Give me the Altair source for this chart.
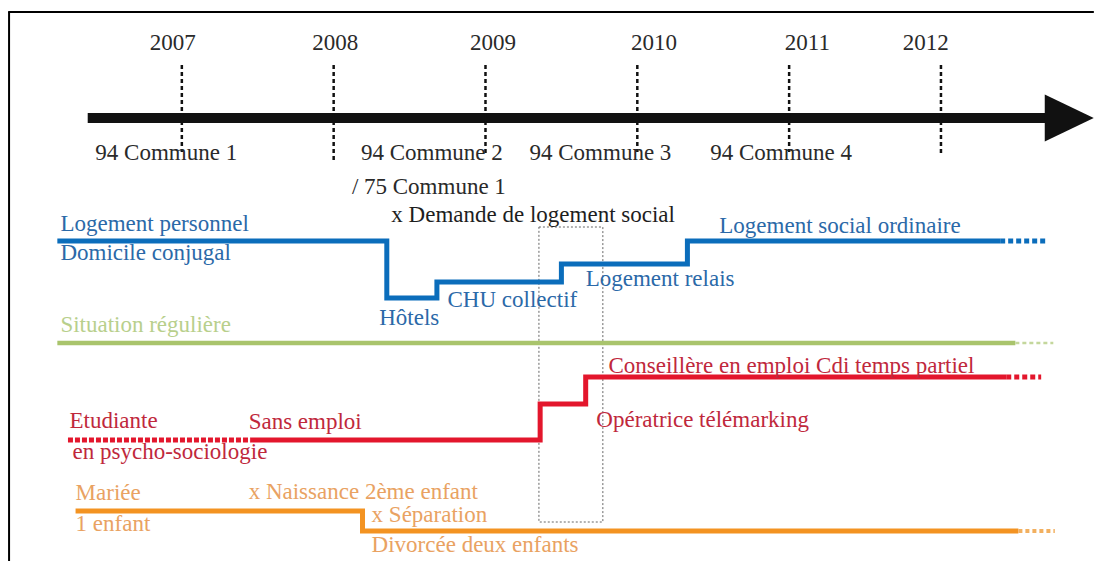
import altair as alt
import pandas as pd

# ---------------- data ----------------
# horizontal axis in years, vertical axis in "rows" of the diagram (top = small)
X_DOMAIN = [2005.855, 2013.008]
Y_DOMAIN = [8, 561]

years = [2007, 2008, 2009, 2010, 2011, 2012]
year_labels = ["2007", "2008", "2009", "2010", "2011", "2012"]
year_label_x = [2006.94, 2008.01, 2009.05, 2010.11, 2011.12, 2011.90]
year_line_top = [65, 65, 65, 65, 65, 65]
year_line_bottom = [152, 162, 154, 152, 152, 155]

arrow_start = 2006.38
arrow_end = 2012.70
arrow_tip = 2013.00
arrow_row = 118

communes = ["94 Commune 1", "94 Commune 2", "/ 75 Commune 1", "94 Commune 3", "94 Commune 4"]
commune_x = [2006.43, 2008.18, 2008.12, 2009.29, 2010.48]
commune_row = [153, 153, 187, 153, 153]

# step tracks: (year, row)
blue_x = [2006.18, 2008.35, 2008.35, 2008.68, 2008.68, 2009.50, 2009.50, 2010.33, 2010.33, 2012.39]
blue_y = [241, 241, 298, 298, 282, 282, 264, 264, 241, 241]
blue_tail = [2012.39, 2012.70]

green_x = [2006.18, 2012.49]
green_y = [343, 343]
green_tail = [2012.49, 2012.74]

red_x = [2007.45, 2009.36, 2009.36, 2009.66, 2009.66, 2012.43]
red_y = [440, 440, 404, 404, 377, 377]
red_head = [2006.25, 2007.45]
red_tail = [2012.43, 2012.66]

orange_x = [2006.30, 2008.19, 2008.19, 2012.51]
orange_y = [511, 511, 531, 531]
orange_tail = [2012.51, 2012.75]

box_x = [2009.352, 2009.773]
box_y = [227, 522]

label_text = [
    "x Demande de logement social",
    "Logement personnel", "Domicile conjugal", "Hôtels", "CHU collectif",
    "Logement relais", "Logement social ordinaire",
    "Situation régulière",
    "Etudiante", "en psycho-sociologie", "Sans emploi", "Opératrice télémarking",
    "Conseillère en emploi Cdi temps partiel",
    "Mariée", "1 enfant", "x Naissance 2ème enfant", "x Séparation", "Divorcée deux enfants",
]
label_x = [
    2008.38,
    2006.20, 2006.20, 2008.30, 2008.75,
    2009.66, 2010.54,
    2006.20,
    2006.26, 2006.28, 2007.44, 2009.73,
    2009.81,
    2006.30, 2006.30, 2007.44, 2008.25, 2008.25,
]
label_y = [
    215,
    224, 253, 318, 300,
    279, 226,
    325,
    421, 452, 422, 420,
    366,
    493, 524, 492, 515, 545,
]
label_group = [
    "black",
    "blue", "blue", "blue", "blue", "blue", "blue",
    "green",
    "red", "red", "red", "red", "red",
    "orange", "orange", "orange", "orange", "orange",
]

# ---------------- styles ----------------
C_BLUE = "#0b6dbb"
C_GREEN = "#a9c46c"
C_RED = "#e3162c"
C_ORANGE = "#f39322"
TEXT_COLORS = {"black": "#1e1e1e", "blue": "#2b69a8", "green": "#b8cf8c",
               "red": "#c0283c", "orange": "#e9a262"}
FONT = "Liberation Serif"
FS = 23

xs = alt.Scale(domain=X_DOMAIN, nice=False, zero=False)
ys = alt.Scale(domain=Y_DOMAIN, reverse=True, nice=False, zero=False)


def X(f="x"):
    return alt.X(f"{f}:Q", scale=xs, axis=None)


def Y(f="y"):
    return alt.Y(f"{f}:Q", scale=ys, axis=None)


layers = []

# frame (left and top borders)
left = pd.DataFrame({"x": [X_DOMAIN[0] + 0.007], "y": [12], "y2": [Y_DOMAIN[1]]})
layers.append(alt.Chart(left).mark_rule(color="#000", strokeWidth=2).encode(
    x=X(), y=Y(), y2="y2:Q"))
top = pd.DataFrame({"x": [X_DOMAIN[0] + 0.001], "x2": [X_DOMAIN[1] - 0.001],
                    "y": [11], "y2": [13]})
layers.append(alt.Chart(top).mark_rect(color="#000", strokeWidth=0).encode(
    x=X(), x2="x2:Q", y=Y(), y2="y2:Q"))

# main arrow
arrow = pd.DataFrame({"x": [arrow_start], "x2": [arrow_end], "y": [arrow_row]})
layers.append(alt.Chart(arrow).mark_rule(color="#111", strokeWidth=10).encode(
    x=X(), x2="x2:Q", y=Y()))
head = pd.DataFrame({"x": [(arrow_end + arrow_tip) / 2 - 0.005], "y": [arrow_row]})
layers.append(alt.Chart(head).mark_point(
    shape="M-1,-0.96L1,0L-1,0.96Z", size=2401, filled=True, opacity=1,
    color="#111", strokeWidth=0).encode(x=X(), y=Y()))

# year dashed lines
yl = pd.DataFrame({"x": years, "y": year_line_top, "y2": year_line_bottom})
layers.append(alt.Chart(yl).mark_rule(color="#111", strokeWidth=2.5, strokeDash=[4, 3]).encode(
    x=X(), y=Y(), y2="y2:Q"))

# year labels
ylab = pd.DataFrame({"x": year_label_x, "y": [43] * len(years), "t": year_labels})
layers.append(alt.Chart(ylab).mark_text(font=FONT, fontSize=FS, color="#2a2a2a",
                                        align="center", baseline="middle").encode(
    x=X(), y=Y(), text="t:N"))

# communes
cl = pd.DataFrame({"x": commune_x, "y": commune_row, "t": communes})
layers.append(alt.Chart(cl).mark_text(font=FONT, fontSize=FS, color="#2a2a2a",
                                      align="left", baseline="middle").encode(
    x=X(), y=Y(), text="t:N"))

# dotted box
box = pd.DataFrame({"x": [box_x[0]], "x2": [box_x[1]], "y": [box_y[0]], "y2": [box_y[1]]})
layers.append(alt.Chart(box).mark_rect(fillOpacity=0, stroke="#666", strokeWidth=1,
                                       strokeDash=[2, 2]).encode(
    x=X(), x2="x2:Q", y=Y(), y2="y2:Q"))


def step(xv, yv, color, width=5):
    d = pd.DataFrame({"x": xv, "y": yv, "o": list(range(len(xv)))})
    return alt.Chart(d).mark_line(color=color, strokeWidth=width, strokeJoin="miter",
                                  strokeCap="butt").encode(x=X(), y=Y(), order="o:Q")


def dotted(xv, row, color, width, dash):
    d = pd.DataFrame({"x": [xv[0]], "x2": [xv[1]], "y": [row]})
    return alt.Chart(d).mark_rule(color=color, strokeWidth=width, strokeDash=dash,
                                  strokeCap="butt").encode(x=X(), x2="x2:Q", y=Y())


layers.append(step(blue_x, blue_y, C_BLUE))
layers.append(dotted(blue_tail, blue_y[-1], C_BLUE, 5, [5, 3]))
layers.append(step(green_x, green_y, C_GREEN, 4.5))
layers.append(dotted(green_tail, green_y[-1], "#c4d79c", 2.5, [4, 3]))
layers.append(step(red_x, red_y, C_RED))
layers.append(dotted(red_head, red_y[0], C_RED, 5, [5, 2]))
layers.append(dotted(red_tail, red_y[-1], C_RED, 5, [5, 3]))
layers.append(step(orange_x, orange_y, C_ORANGE))
layers.append(dotted(orange_tail, orange_y[-1], "#f2b060", 4, [4, 3]))

# labels
lab = pd.DataFrame({"x": label_x, "y": label_y, "t": label_text, "g": label_group})
layers.append(alt.Chart(lab).mark_text(font=FONT, fontSize=FS, align="left",
                                       baseline="middle").encode(
    x=X(), y=Y(), text="t:N",
    color=alt.Color("g:N", scale=alt.Scale(domain=list(TEXT_COLORS.keys()),
                                           range=list(TEXT_COLORS.values())),
                    legend=None)))

chart = alt.layer(*layers).properties(
    width=1086, height=553, padding=0,
    autosize=alt.AutoSizeParams(type="none"),
).configure_view(stroke=None)

chart.save("out.html", embed_options={"renderer": "svg", "actions": False})
